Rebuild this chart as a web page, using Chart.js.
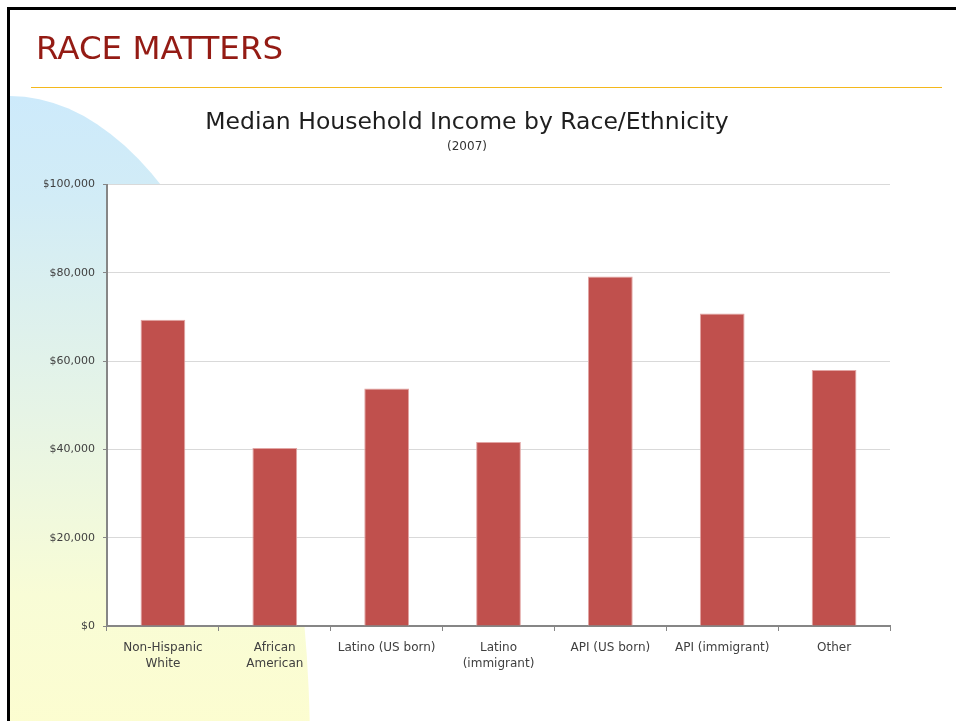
<!DOCTYPE html>
<html>
<head>
<meta charset="utf-8">
<script src="https://cdn.jsdelivr.net/npm/chart.js@4/dist/chart.umd.min.js"></script>
<style>
  html, body { margin:0; padding:0; background:#fff; }
  body { width:956px; height:721px; position:relative; overflow:hidden; font-family:"DejaVu Sans", sans-serif; }
  #clip { position:absolute; left:10px; top:0; width:946px; height:721px; overflow:hidden; z-index:0; }
  #blob { position:absolute; left:-300px; top:96px; width:600px; height:1310px; border-radius:50%;
          background:linear-gradient(to bottom, #cdeafb 0%, #d2ecf6 8%, #e6f4e6 24%, #f8fcd6 38%, #fdfdcf 50%, #fdfdcf 100%); }
  #btop { position:absolute; left:7px; top:7px; width:949px; height:3px; background:#000; z-index:3; }
  #bleft { position:absolute; left:7px; top:7px; width:3px; height:714px; background:#000; z-index:3; }
  #rule { position:absolute; left:31px; top:87px; width:911px; height:1px; background:#f4b81c; z-index:2; }
  #slideTitle { position:absolute; left:36px; top:26px; font-size:32.5px; color:#941b14; line-height:44px; z-index:2; white-space:nowrap; }
  #c { position:absolute; left:0; top:0; z-index:1; }
</style>
</head>
<body>
<div id="clip"><div id="blob"></div></div>
<div id="btop"></div>
<div id="bleft"></div>
<div id="rule"></div>
<div id="slideTitle">RACE MATTERS</div>
<canvas id="c" width="956" height="721"></canvas>
<script>
const categories = [
  ["Non-Hispanic", "White"],
  ["African", "American"],
  "Latino (US born)",
  ["Latino", "(immigrant)"],
  "API (US born)",
  "API (immigrant)",
  "Other"
];
const incomeValues = [69400, 40300, 53800, 41700, 79200, 70800, 58000];
const yTickValues = [0, 20000, 40000, 60000, 80000, 100000];
const chartTitle = "Median Household Income by Race/Ethnicity";
const chartSubtitle = "(2007)";

const FONT = "'DejaVu Sans', sans-serif";

const whitePlot = {
  id: 'whitePlot',
  beforeDraw(chart) {
    const a = chart.chartArea, ctx = chart.ctx;
    ctx.save();
    ctx.fillStyle = '#ffffff';
    ctx.fillRect(a.left, a.top, a.right - a.left, a.bottom - a.top);
    ctx.restore();
  }
};

new Chart(document.getElementById('c'), {
  type: 'bar',
  data: {
    labels: categories,
    datasets: [{
      data: incomeValues,
      backgroundColor: '#c0504d',
      borderColor: '#e2a5a4',
      borderWidth: 1,
      categoryPercentage: 1.0,
      barPercentage: 0.4
    }]
  },
  options: {
    responsive: false,
    devicePixelRatio: 1,
    animation: false,
    layout: { padding: { left: 44, right: 66, top: 109, bottom: 0 } },
    plugins: {
      legend: { display: false },
      tooltip: { enabled: false },
      title: {
        display: true, text: chartTitle, color: '#1e1e1e',
        font: { family: FONT, size: 23.5, weight: 'normal' },
        padding: { top: 0, bottom: 2 }
      },
      subtitle: {
        display: true, text: chartSubtitle, color: '#333333',
        font: { family: FONT, size: 12, weight: 'normal' },
        padding: { top: 0, bottom: 31 }
      }
    },
    scales: {
      x: {
        afterFit(s) { s.height = 95; },
        grid: { display: true, drawOnChartArea: false, drawTicks: true, tickLength: 5, tickColor: '#868686', offset: true },
        border: { display: true, color: '#868686', width: 2 },
        ticks: { color: '#404040', font: { family: FONT, size: 12, lineHeight: 1.4 }, padding: 8, maxRotation: 0, autoSkip: false }
      },
      y: {
        min: 0, max: 100000,
        afterFit(s) { s.width = 63; },
        afterBuildTicks(s) { s.ticks = yTickValues.map(v => ({ value: v })); },
        grid: { color: '#d9d9d9', lineWidth: 1, tickLength: 4, tickColor: '#868686' },
        border: { display: true, color: '#868686', width: 2 },
        ticks: {
          color: '#404040', font: { family: FONT, size: 11 }, padding: 8,
          callback: v => '$' + Number(v).toLocaleString('en-US')
        }
      }
    }
  },
  plugins: [whitePlot]
});
</script>
</body>
</html>
